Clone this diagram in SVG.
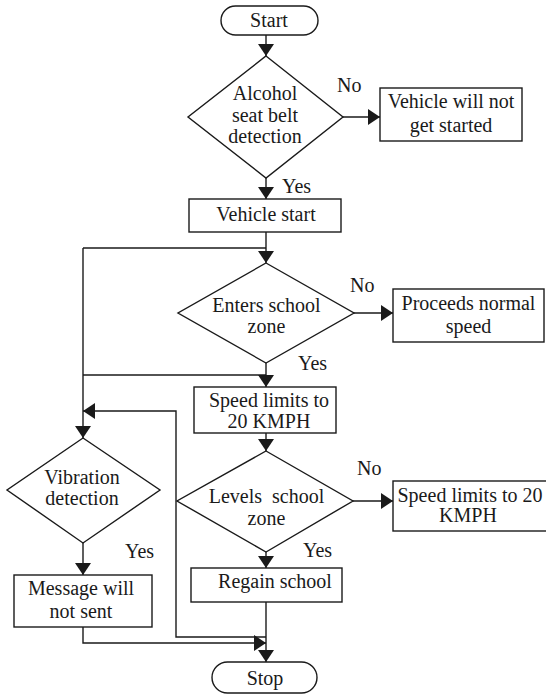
<svg xmlns="http://www.w3.org/2000/svg" width="546" height="696" viewBox="0 0 546 696">
<defs>
<marker id="ah" markerUnits="userSpaceOnUse" markerWidth="13" markerHeight="16" refX="12" refY="8" orient="auto">
<path d="M0,0 L12,8 L0,16 z" fill="#1a1a1a"/>
</marker>
<style>
.s{fill:#fff;stroke:#1a1a1a;stroke-width:1.4}
.c{fill:none;stroke:#1a1a1a;stroke-width:1.4}
text{font-size:20px;fill:#1a1a1a;white-space:pre}
.m{text-anchor:middle}
</style>
</defs>
<rect width="546" height="696" fill="#fff"/>
<g id="connectors">
<path class="c" d="M266,35 V56" marker-end="url(#ah)"/>
<path class="c" d="M343,117 H380" marker-end="url(#ah)"/>
<path class="c" d="M266,178 V199" marker-end="url(#ah)"/>
<path class="c" d="M266,232 V263" marker-end="url(#ah)"/>
<path class="c" d="M266,248 H83"/>
<path class="c" d="M83,248 V438" marker-end="url(#ah)"/>
<path class="c" d="M354,313 H393" marker-end="url(#ah)"/>
<path class="c" d="M266,363 V387" marker-end="url(#ah)"/>
<path class="c" d="M83,375 H266"/>
<path class="c" d="M266,433 V451" marker-end="url(#ah)"/>
<path class="c" d="M353,501 H393" marker-end="url(#ah)"/>
<path class="c" d="M266,552 V568" marker-end="url(#ah)"/>
<path class="c" d="M266,602 V662" marker-end="url(#ah)"/>
<path class="c" d="M266,637 H176 V411 H83" marker-end="url(#ah)"/>
<path class="c" d="M83,543 V575" marker-end="url(#ah)"/>
<path class="c" d="M83,627 V643 H266" marker-end="url(#ah)"/>
</g>
<g font-family="'Liberation Serif', 'DejaVu Serif', serif">
<g id="start">
<rect class="s" x="221" y="6" width="97" height="29" rx="14.5"/>
<text class="m" x="269" y="27">Start</text>
</g>
<g id="alcohol">
<polygon class="s" points="266,56 343,117 266,178 188,117"/>
<text class="m" x="265" y="100">Alcohol</text>
<text class="m" x="265" y="122">seat belt</text>
<text class="m" x="265" y="143">detection</text>
</g>
<g id="not-started">
<rect class="s" x="380" y="88" width="142" height="53"/>
<text class="m" x="451" y="108">Vehicle will not</text>
<text class="m" x="451" y="132">get started</text>
</g>
<g id="vehicle-start">
<rect class="s" x="189" y="199" width="152" height="33"/>
<text class="m" x="266" y="221">Vehicle start</text>
</g>
<g id="enters">
<polygon class="s" points="266,263 354,313 266,363 178,313"/>
<text class="m" x="266.5" y="312">Enters school</text>
<text class="m" x="266.5" y="333">zone</text>
</g>
<g id="proceeds">
<rect class="s" x="393" y="289" width="151" height="53"/>
<text class="m" x="468.5" y="310">Proceeds normal</text>
<text class="m" x="468.5" y="333">speed</text>
</g>
<g id="speed-limit">
<rect class="s" x="194" y="387" width="142" height="46"/>
<text class="m" x="269" y="407">Speed limits to</text>
<text class="m" x="269" y="428">20 KMPH</text>
</g>
<g id="levels">
<polygon class="s" points="266,451 353,501 266,552 177,501"/>
<text class="m" x="266.5" y="503">Levels  school</text>
<text class="m" x="266.5" y="525">zone</text>
</g>
<g id="speed-limit-2">
<rect class="s" x="393" y="481" width="156" height="50"/>
<text class="m" x="470" y="502">Speed limits to 20</text>
<text class="m" x="468" y="522">KMPH</text>
</g>
<g id="regain">
<rect class="s" x="191" y="568" width="151" height="34"/>
<text class="m" x="275" y="588">Regain school</text>
</g>
<g id="vibration">
<polygon class="s" points="83,438 160,490 83,543 7,490"/>
<text class="m" x="82" y="484">Vibration</text>
<text class="m" x="82" y="505">detection</text>
</g>
<g id="message">
<rect class="s" x="14" y="575" width="138" height="52"/>
<text class="m" x="81" y="595">Message will</text>
<text class="m" x="81" y="618">not sent</text>
</g>
<g id="stop">
<rect class="s" x="212" y="662" width="105" height="31" rx="15.5"/>
<text class="m" x="265" y="685">Stop</text>
</g>
<g id="labels">
<text x="337" y="92">No</text>
<text x="282" y="193">Yes</text>
<text x="350" y="292">No</text>
<text x="298" y="370">Yes</text>
<text x="357" y="475">No</text>
<text x="303" y="557">Yes</text>
<text x="125" y="558">Yes</text>
</g>
</g>
</svg>
